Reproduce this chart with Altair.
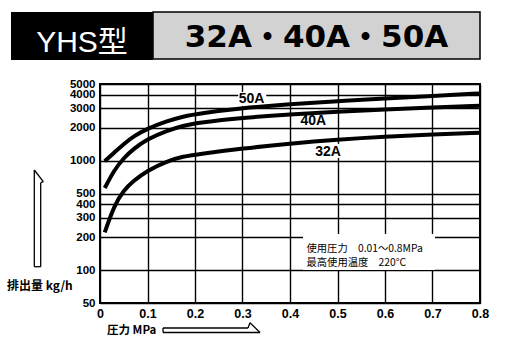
import altair as alt
import pandas as pd

# ---- data ----
pressure = [0.01, 0.03, 0.05, 0.07, 0.1, 0.14, 0.175, 0.21, 0.3, 0.4, 0.5, 0.6, 0.7, 0.8]
flow_32A = [221, 390, 535, 650, 811, 984, 1090, 1150, 1288, 1430, 1556, 1657, 1728, 1792]
flow_40A = [561, 820, 1055, 1275, 1573, 1870, 2080, 2230, 2456, 2644, 2792, 2925, 3050, 3168]
flow_50A = [984, 1184, 1415, 1657, 1962, 2280, 2530, 2700, 3020, 3280, 3480, 3690, 3890, 4100]
series_names = ["32A", "40A", "50A"]

x_ticks = [0, 0.1, 0.2, 0.3, 0.4, 0.5, 0.6, 0.7, 0.8]
y_ticks = [50, 100, 200, 300, 400, 500, 1000, 2000, 3000, 4000, 5000]

label_names = ["50A", "40A", "32A"]
label_p = [0.319, 0.449, 0.48]
label_q = [3620, 2297, 1209]

title_left = "YHS型"
title_right = "32A・40A・50A"
y_title = "排出量 kg/h"
x_title = "圧力 MPa"
note_1 = "使用圧力　0.01～0.8MPa"
note_2 = "最高使用温度　220°C"

# ---- tables ----
rows = []
for name, vals in zip(series_names, [flow_32A, flow_40A, flow_50A]):
    for p, q in zip(pressure, vals):
        rows.append({"series": name, "p": p, "q": q})
curves = pd.DataFrame(rows)
labels = pd.DataFrame({"name": label_names, "p": label_p, "q": label_q})
one = pd.DataFrame({"k": [0]})

W, H = 380, 219
NARROW = "Liberation Sans Narrow, Liberation Sans, Arial, sans-serif"
CJK = "Noto Sans CJK JP, sans-serif"

xs = alt.Scale(domain=[0, 0.8], nice=False, zero=False)
ys = alt.Scale(type="log", domain=[50, 5000], nice=False)

axis_common = dict(title=None, grid=True, gridColor="black", gridWidth=1.4, gridOpacity=1,
                   domain=False, ticks=False, labelColor="black", labelFont=NARROW,
                   labelFontWeight="bold", labelOverlap=False,
                   labelFlush=False, labelBound=False)
x_axis = alt.Axis(values=x_ticks, format="~g", labelPadding=4, labelFontSize=12.5, **axis_common)
y_axis = alt.Axis(values=y_ticks, format="d", labelPadding=5, labelFontSize=11.5, **axis_common)

# white backgrounds behind curve labels (in data space)
label_bg = alt.Chart(pd.DataFrame({
    "p": [0.291, 0.423, 0.459], "p2": [0.350, 0.476, 0.505],
    "q": [3150, 2030, 1056], "q2": [4225, 2600, 1420],
})).mark_rect(color="white").encode(
    x=alt.X("p:Q", scale=xs, axis=x_axis), x2="p2:Q",
    y=alt.Y("q:Q", scale=ys, axis=y_axis), y2="q2:Q",
)

lines = alt.Chart(curves).mark_line(color="black", strokeWidth=4, interpolate="basis").encode(
    x=alt.X("p:Q", scale=xs, axis=x_axis),
    y=alt.Y("q:Q", scale=ys, axis=y_axis),
    detail="series:N",
)

curve_labels = alt.Chart(labels).mark_text(font=NARROW, fontSize=14, fontWeight="bold", color="black").encode(
    x=alt.X("p:Q", scale=xs, axis=x_axis),
    y=alt.Y("q:Q", scale=ys, axis=y_axis),
    text="name:N",
)


def vrect(x1, x2, y1, y2, **kw):
    return alt.Chart(one).mark_rect(**kw).encode(
        x=alt.value(x1), x2=alt.value(x2), y=alt.value(y1), y2=alt.value(y2))


def vtext(x, y, txt, **kw):
    return alt.Chart(one).mark_text(**kw).encode(x=alt.value(x), y=alt.value(y), text=alt.value(txt))


def seg(x1, y1, x2, y2):
    return alt.Chart(one).mark_rule(color="black", strokeWidth=1.3).encode(
        x=alt.value(x1), y=alt.value(y1), x2=alt.value(x2), y2=alt.value(y2))


note_box = vrect(203, 335, 150, 186, color="white")
note_t1 = vtext(206.5, 165.2, note_1, align="left", baseline="middle", font=CJK, fontSize=10.3, color="black")
note_t2 = vtext(206.5, 179.0, note_2, align="left", baseline="middle", font=CJK, fontSize=10.3, color="black")

# header
black_box = vrect(-89, 53, -72, -24, color="black")
gray_box = vrect(53, 380, -72, -25, fill="#d2d2d2", stroke="black", strokeWidth=1.5)
t_left = vtext(-18, -32, title_left, align="center", baseline="alphabetic",
               font="Liberation Sans, Noto Sans CJK JP, sans-serif", fontSize=30, color="white")
t_right = vtext(216.5, -37, title_right, align="center", baseline="alphabetic",
                font="DejaVu Sans, Noto Sans CJK JP, sans-serif", fontSize=31, fontWeight="bold", color="black")

# axis titles
yt = vtext(-93, 201.5, y_title, align="left", baseline="middle", font=CJK, fontSize=12,
           fontWeight="bold", color="black")
xt = vtext(7, 247, x_title, align="left", baseline="middle", font=CJK, fontSize=11.5,
           fontWeight="bold", color="black")

# outline arrows
up_arrow = [
    seg(-65.7, 182.7, -65.7, 86), seg(-65.7, 86, -56.7, 97.7), seg(-56.7, 97.7, -59.3, 98.7),
    seg(-59.3, 98.7, -59.3, 182.7), seg(-65.7, 182.7, -59.3, 182.7),
]
right_arrow = [
    seg(63, 244, 148, 244), seg(148, 244, 150, 238.7), seg(150, 238.7, 160, 248.5),
    seg(160, 248.5, 63, 248.5), seg(63, 244, 63, 248.5),
]

chart = alt.layer(
    label_bg, lines, curve_labels, note_box, note_t1, note_t2,
    black_box, gray_box, t_left, t_right, yt, xt, *up_arrow, *right_arrow,
).properties(
    width=W, height=H,
    autosize=alt.AutoSizeParams(type="none"),
    padding={"left": 100, "top": 84, "right": 32, "bottom": 48},
    background="white",
).configure_view(stroke="black", strokeWidth=2)

chart.save("out.html", embed_options={"renderer": "svg", "actions": False})
